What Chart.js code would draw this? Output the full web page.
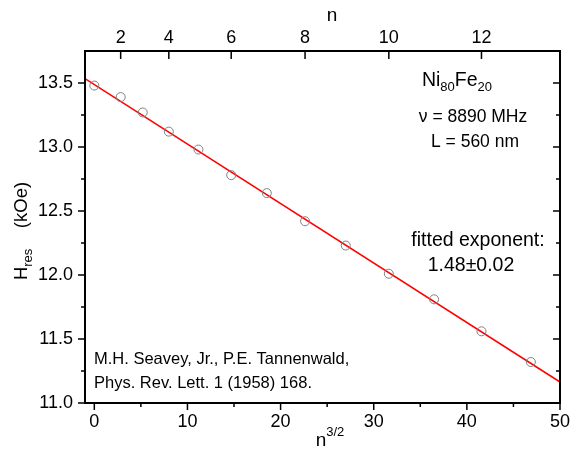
<!DOCTYPE html>
<html>
<head>
<meta charset="utf-8">
<script src="https://cdn.jsdelivr.net/npm/chart.js@4"></script>
<style>
  body { margin: 0; background: #fff; }
  #wrap { width: 571px; height: 454px; }
</style>
</head>
<body>
<div id="wrap"><canvas id="c" width="571" height="454"></canvas></div>
<script>
// ---------------- data ----------------
const xVals = [0, 2.83, 5.20, 8.00, 11.18, 14.70, 18.52, 22.63, 27.00, 31.62, 36.48, 41.57, 46.87];
const hRes  = [13.48, 13.39, 13.27, 13.12, 12.98, 12.78, 12.64, 12.42, 12.23, 12.01, 11.81, 11.56, 11.32];

// fitted line end points
const fitX = [-1, 50];
const fitY = [13.534, 11.164];

// axes
const xTicks  = [0, 10, 20, 30, 40, 50];
const xMinor  = [5, 15, 25, 35, 45];
const yTicks  = [11.0, 11.5, 12.0, 12.5, 13.0, 13.5];
const yMinor  = [11.25, 11.75, 12.25, 12.75, 13.25];
const nTicks  = [2, 4, 6, 8, 10, 12];

const FONT = "'Liberation Sans', Arial, sans-serif";

// top axis is n, placed at n^(3/2)
const nPos = n => Math.pow(n, 1.5);

// ---------------- rich text helper (sub / superscripts) ----------------
function drawRich(ctx, parts, x, y, align) {
  let w = 0;
  parts.forEach(p => {
    ctx.font = p.size + "px " + FONT;
    w += ctx.measureText(p.t).width;
  });
  let cx = align === "center" ? x - w / 2 : x;
  parts.forEach(p => {
    ctx.font = p.size + "px " + FONT;
    ctx.fillText(p.t, cx, y + (p.dy || 0));
    cx += ctx.measureText(p.t).width;
  });
}

// ---------------- frame, ticks and labels ----------------
const decor = {
  id: "decor",
  afterDraw(chart) {
    const ctx = chart.ctx;
    const a = chart.chartArea;
    const sx = chart.scales.x, sy = chart.scales.y;

    ctx.save();
    ctx.strokeStyle = "#000";
    ctx.fillStyle = "#000";

    // ticks
    ctx.lineWidth = 1.5;
    ctx.beginPath();
    xTicks.forEach(v => { const p = sx.getPixelForValue(v); ctx.moveTo(p, a.bottom); ctx.lineTo(p, a.bottom + 7); });
    xMinor.forEach(v => { const p = sx.getPixelForValue(v); ctx.moveTo(p, a.bottom); ctx.lineTo(p, a.bottom + 4); });
    nTicks.forEach(n => { const p = sx.getPixelForValue(nPos(n)); ctx.moveTo(p, a.top); ctx.lineTo(p, a.top + 8); });
    yTicks.forEach(v => {
      const p = sy.getPixelForValue(v);
      ctx.moveTo(a.left, p); ctx.lineTo(a.left - 7, p);
      ctx.moveTo(a.right, p); ctx.lineTo(a.right - 7, p);
    });
    yMinor.forEach(v => {
      const p = sy.getPixelForValue(v);
      ctx.moveTo(a.left, p); ctx.lineTo(a.left - 4, p);
      ctx.moveTo(a.right, p); ctx.lineTo(a.right - 4, p);
    });
    ctx.stroke();

    // frame
    ctx.lineWidth = 2;
    ctx.strokeRect(a.left, a.top, a.right - a.left, a.bottom - a.top);

    ctx.textBaseline = "alphabetic";

    // axis titles
    drawRich(ctx, [{ t: "n", size: 19 }, { t: "3/2", size: 13, dy: -10 }], 330, 446, "center");
    drawRich(ctx, [{ t: "n", size: 19 }], 332, 21, "center");

    ctx.save();
    ctx.translate(27, 231);
    ctx.rotate(-Math.PI / 2);
    drawRich(ctx, [{ t: "H", size: 18.5 }, { t: "res", size: 13, dy: 5 }, { t: "    (kOe)", size: 18.5 }], 0, 0, "center");
    ctx.restore();

    // annotations
    drawRich(ctx, [{ t: "Ni", size: 19.5 }, { t: "80", size: 13, dy: 5 }, { t: "Fe", size: 19.5 }, { t: "20", size: 13, dy: 5 }], 457, 86, "center");
    drawRich(ctx, [{ t: "\u03BD = 8890 MHz", size: 17.5 }], 473, 122, "center");
    drawRich(ctx, [{ t: "L = 560 nm", size: 17.5 }], 475, 147, "center");
    drawRich(ctx, [{ t: "fitted exponent:", size: 19.5 }], 478, 246, "center");
    drawRich(ctx, [{ t: "1.48\u00B10.02", size: 19.5 }], 471, 271, "center");

    drawRich(ctx, [{ t: "M.H. Seavey, Jr., P.E. Tannenwald,", size: 16.5 }], 94, 364, "left");
    drawRich(ctx, [{ t: "Phys. Rev. Lett. 1 (1958) 168.", size: 16.5 }], 94, 388, "left");

    ctx.restore();
  }
};

const tickFont = { family: FONT, size: 18 };
const noSidePad = s => { s.paddingLeft = 0; s.paddingRight = 0; };

new Chart(document.getElementById("c"), {
  type: "scatter",
  data: {
    datasets: [
      {
        label: "fit",
        data: fitX.map((x, i) => ({ x, y: fitY[i] })),
        showLine: true,
        borderColor: "#ff0000",
        borderWidth: 1.5,
        pointRadius: 0,
        order: 2
      },
      {
        label: "Hres",
        data: xVals.map((x, i) => ({ x, y: hRes[i] })),
        pointStyle: "circle",
        pointRadius: 4.5,
        pointBorderWidth: 1,
        pointBorderColor: "#808080",
        pointBackgroundColor: "rgba(0,0,0,0)",
        showLine: false,
        order: 1
      }
    ]
  },
  plugins: [decor],
  options: {
    responsive: false,
    animation: false,
    layout: { padding: { left: 0, right: 11, top: 0, bottom: 0 } },
    plugins: { legend: { display: false }, tooltip: { enabled: false } },
    scales: {
      x: {
        type: "linear", position: "bottom", min: -1, max: 50,
        afterBuildTicks: s => { s.ticks = xTicks.map(v => ({ value: v })); },
        afterFit: s => { s.height = 51; noSidePad(s); },
        grid: { display: false, drawTicks: false },
        border: { display: false },
        ticks: { font: tickFont, color: "#000", padding: 8, maxRotation: 0, autoSkip: false }
      },
      x2: {
        type: "linear", position: "top", min: -1, max: 50,
        afterBuildTicks: s => { s.ticks = nTicks.map(n => ({ value: nPos(n) })); },
        afterFit: s => { s.height = 51; noSidePad(s); },
        grid: { display: false, drawTicks: false },
        border: { display: false },
        ticks: { font: tickFont, color: "#000", padding: 2, maxRotation: 0, autoSkip: false,
                 callback: (v, i) => String(nTicks[i]) }
      },
      y: {
        type: "linear", min: 11, max: 13.75,
        afterBuildTicks: s => { s.ticks = yTicks.map(v => ({ value: v })); },
        afterFit: s => { s.width = 85; s.paddingTop = 0; s.paddingBottom = 0; },
        grid: { display: false, drawTicks: false },
        border: { display: false },
        ticks: { font: tickFont, color: "#000", padding: 12, autoSkip: false,
                 callback: v => v.toFixed(1) }
      }
    }
  }
});
</script>
</body>
</html>
